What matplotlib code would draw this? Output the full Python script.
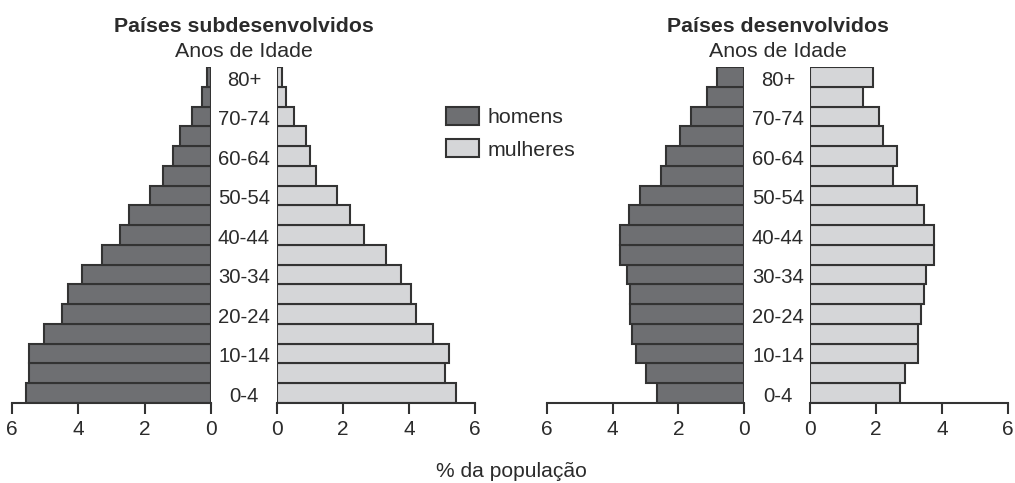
import matplotlib
matplotlib.use('Agg')
import matplotlib.pyplot as plt
from matplotlib.patches import Patch
from matplotlib import transforms

plt.rcParams['font.family'] = ['Liberation Sans', 'DejaVu Sans']

# age groups, bottom to top
age_groups = ['0-4', '5-9', '10-14', '15-19', '20-24', '25-29', '30-34', '35-39',
              '40-44', '45-49', '50-54', '55-59', '60-64', '65-69', '70-74', '75-79', '80+']

# % da população - países subdesenvolvidos
sub_homens = [5.58, 5.49, 5.49, 5.03, 4.48, 4.31, 3.88, 3.28,
              2.74, 2.48, 1.84, 1.46, 1.16, 0.94, 0.56, 0.26, 0.13]
sub_mulheres = [5.42, 5.08, 5.21, 4.72, 4.22, 4.07, 3.77, 3.29,
                2.65, 2.22, 1.83, 1.18, 0.99, 0.87, 0.52, 0.27, 0.15]

# % da população - países desenvolvidos
des_homens = [2.66, 3.00, 3.29, 3.41, 3.46, 3.46, 3.57, 3.79,
              3.79, 3.51, 3.17, 2.52, 2.37, 1.96, 1.62, 1.14, 0.83]
des_mulheres = [2.72, 2.89, 3.26, 3.26, 3.36, 3.45, 3.52, 3.75,
                3.75, 3.46, 3.25, 2.51, 2.64, 2.22, 2.10, 1.62, 1.91]

tick_values = [0, 2, 4, 6]

MEN_COLOR = '#6e6f72'
WOMEN_COLOR = '#d5d6d8'
EDGE = '#333333'
TEXT = '#2b2b2b'

W, H = 1015, 483
fig = plt.figure(figsize=(W / 100, H / 100), dpi=100)
fig.set_facecolor('white')

y0 = (H - 403) / H
h = 336 / H


def side_axes(left_px, width_px, values, color, invert):
    ax = fig.add_axes([left_px / W, y0, width_px / W, h])
    ax.barh(range(len(values)), values, height=1.0, color=color,
            edgecolor=EDGE, linewidth=1.5)
    ax.set_ylim(-0.5, len(values) - 0.5)
    if invert:
        ax.set_xlim(6, 0)
    else:
        ax.set_xlim(0, 6)
    ax.set_xticks(tick_values)
    ax.set_xticklabels([str(v) for v in tick_values])
    ax.set_yticks([])
    for s in ['top', 'left', 'right']:
        ax.spines[s].set_visible(False)
    ax.spines['bottom'].set_color(EDGE)
    ax.spines['bottom'].set_linewidth(1.5)
    ax.tick_params(axis='x', direction='out', length=8, width=1.5,
                   color=EDGE, labelcolor=TEXT, labelsize=15, pad=4)
    ax.set_facecolor('none')
    return ax


def pyramid(men_px, women_px, men, women, title, center_px):
    ax_m = side_axes(men_px[0], men_px[1], men, MEN_COLOR, True)
    side_axes(women_px[0], women_px[1], women, WOMEN_COLOR, False)
    trans = transforms.blended_transform_factory(fig.transFigure, ax_m.transData)
    # labels on every other age group
    for i in range(0, len(age_groups), 2):
        ax_m.text(center_px / W, i - 0.45, age_groups[i], transform=trans,
                  ha='center', va='baseline', fontsize=14.6, color=TEXT, clip_on=False)
    fig.text(center_px / W, 1 - 32 / H, title, ha='center', va='baseline',
             fontsize=15.3, fontweight='bold', color=TEXT)
    fig.text(center_px / W, 1 - 57 / H, 'Anos de Idade', ha='center', va='baseline',
             fontsize=15.4, color=TEXT)


pyramid((12, 199), (277, 198), sub_homens, sub_mulheres,
        'Países subdesenvolvidos', 244)
pyramid((547, 197), (810, 198), des_homens, des_mulheres,
        'Países desenvolvidos', 778)

handles = [Patch(facecolor=MEN_COLOR, edgecolor=EDGE, linewidth=1.5, label='homens'),
           Patch(facecolor=WOMEN_COLOR, edgecolor=EDGE, linewidth=1.5, label='mulheres')]
fig.legend(handles=handles, loc='upper left', bbox_to_anchor=(446 / W, 1 - 107 / H),
           frameon=False, fontsize=15.4, borderpad=0, borderaxespad=0,
           handlelength=1.54, handleheight=0.91, handletextpad=0.38,
           labelspacing=0.56, labelcolor=TEXT)

fig.text(511 / W, 1 - 477 / H, '% da população', ha='center', va='baseline',
         fontsize=15.1, color=TEXT)

fig.savefig('out.png', dpi=100, facecolor='white')
